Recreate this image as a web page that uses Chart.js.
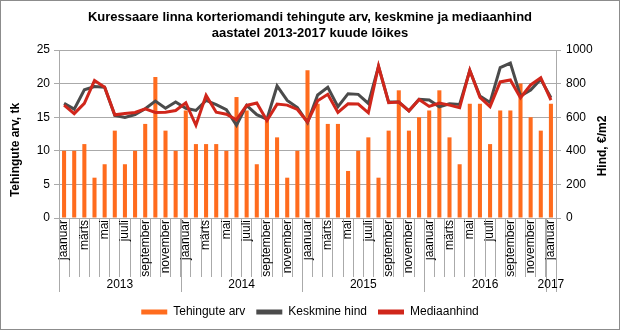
<!DOCTYPE html>
<html>
<head>
<meta charset="utf-8">
<script src="https://cdn.jsdelivr.net/npm/chart.js@4.4.0/dist/chart.umd.min.js"></script>
<style>
  html, body { margin: 0; padding: 0; background: #fff; }
  #wrap { width: 620px; height: 330px; }
</style>
</head>
<body>
<div id="wrap"><canvas id="chart" width="620" height="330"></canvas></div>
<script>
'use strict';

// ----------------------------------------------------------------------------
// Data
// ----------------------------------------------------------------------------

const monthNames = ['jaanuar', 'veebruar', 'märts', 'aprill', 'mai', 'juuni',
    'juuli', 'august', 'september', 'oktoober', 'november', 'detsember'];
const years = ['2013', '2014', '2015', '2016', '2017'];
const monthsPerYear = [12, 12, 12, 12, 1];

// Tehingute arv, tk
const dealCount = [
    10, 10, 11, 6, 8, 13, 8, 10, 14, 21, 13, 10,
    16, 11, 11, 11, 10, 18, 16, 8, 15, 12, 6, 10,
    22, 17, 14, 14, 7, 10, 12, 6, 13, 19, 13, 15,
    16, 19, 12, 8, 17, 17, 11, 16, 16, 20, 15, 13,
    17
];

// Keskmine hind, EUR/m2
const avgPrice = [
    682, 648, 763, 782, 778, 610, 598, 616, 650, 696, 653, 690,
    653, 640, 700, 675, 645, 552, 670, 615, 588, 786, 700, 658,
    568, 732, 778, 662, 740, 736, 682, 902, 690, 690, 638, 706,
    702, 662, 680, 676, 878, 726, 688, 895, 922, 726, 762, 826,
    716
];

// Mediaanhind, EUR/m2
const medianPrice = [
    672, 621, 682, 818, 778, 614, 622, 628, 650, 628, 630, 640,
    685, 552, 730, 630, 618, 585, 670, 685, 580, 678, 672, 646,
    572, 698, 736, 628, 680, 678, 626, 904, 686, 690, 637, 705,
    664, 684, 672, 656, 880, 718, 663, 810, 822, 716, 792, 835,
    702
];

const axisTitles = ['Tehingute arv, tk', 'Hind, €/m2'];

const categories = [];
years.forEach((y, yi) => {
    for (let m = 0; m < monthsPerYear[yi]; m++) {
        categories.push(monthNames[m] + ' ' + y);
    }
});

// ----------------------------------------------------------------------------
// Colors
// ----------------------------------------------------------------------------

const colors = {
    bar: '#ff6c1e',
    avg: '#4b4b4b',
    median: '#d0261b',
    grid: '#aaaaaa',
    text: '#000000',
    frame: '#8c8c8c'
};

const FONT = "'Liberation Sans', Arial, sans-serif";
Chart.defaults.font.family = FONT;
Chart.defaults.color = colors.text;

// ----------------------------------------------------------------------------
// Plugin: frame, year groups, axis titles
// ----------------------------------------------------------------------------

function drawUpText(ctx, text, x, y) {
    ctx.save();
    ctx.translate(x, y);
    ctx.rotate(-Math.PI / 2);
    ctx.fillText(text, 0, 0);
    ctx.restore();
}

const decorPlugin = {
    id: 'decor',
    beforeDraw(chart) {
        const ctx = chart.ctx;
        ctx.save();
        ctx.fillStyle = '#fff';
        ctx.fillRect(0, 0, chart.width, chart.height);
        ctx.restore();
    },
    afterDraw(chart) {
        const ctx = chart.ctx;
        const xs = chart.scales.x;
        const area = chart.chartArea;
        const half = (xs.getPixelForValue(1) - xs.getPixelForValue(0)) / 2;

        ctx.save();
        // year separators and labels
        ctx.strokeStyle = colors.grid;
        ctx.lineWidth = 1;
        ctx.fillStyle = colors.text;
        ctx.font = '12px ' + FONT;
        ctx.textAlign = 'center';
        ctx.textBaseline = 'middle';
        let start = 0;
        years.forEach((y, yi) => {
            const end = start + monthsPerYear[yi];
            const x0 = xs.getPixelForValue(start) - half;
            const x1 = xs.getPixelForValue(end - 1) + half;
            ctx.beginPath();
            ctx.moveTo(Math.round(x0) + 0.5, area.bottom);
            ctx.lineTo(Math.round(x0) + 0.5, 292);
            if (yi === years.length - 1) {
                ctx.moveTo(Math.round(x1) + 0.5, area.bottom);
                ctx.lineTo(Math.round(x1) + 0.5, 292);
            }
            ctx.stroke();
            ctx.fillText(y, (x0 + x1) / 2, 285);
            start = end;
        });

        // axis titles, both reading upwards
        ctx.font = 'bold 12px ' + FONT;
        drawUpText(ctx, axisTitles[0], 16, 150);
        drawUpText(ctx, axisTitles[1], 603, 146);
        ctx.restore();

        // outer frame
        ctx.save();
        ctx.strokeStyle = colors.frame;
        ctx.lineWidth = 1;
        ctx.strokeRect(0.5, 0.5, chart.width - 1, chart.height - 1);
        ctx.restore();
    }
};

// ----------------------------------------------------------------------------
// Chart
// ----------------------------------------------------------------------------

const canvas = document.getElementById('chart');

new Chart(canvas, {
    type: 'bar',
    data: {
        labels: categories,
        datasets: [
            {
                type: 'bar',
                label: 'Tehingute arv',
                data: dealCount,
                backgroundColor: colors.bar,
                borderWidth: 0,
                barPercentage: 0.4,
                categoryPercentage: 1,
                yAxisID: 'y',
                order: 2
            },
            {
                type: 'line',
                label: 'Keskmine hind',
                data: avgPrice,
                borderColor: colors.avg,
                backgroundColor: colors.avg,
                borderWidth: 3,
                pointRadius: 0,
                tension: 0,
                yAxisID: 'y1',
                order: 1
            },
            {
                type: 'line',
                label: 'Mediaanhind',
                data: medianPrice,
                borderColor: colors.median,
                backgroundColor: colors.median,
                borderWidth: 3,
                pointRadius: 0,
                tension: 0,
                yAxisID: 'y1',
                order: 0
            }
        ]
    },
    options: {
        responsive: false,
        devicePixelRatio: 1,
        animation: false,
        layout: {
            padding: { left: 4, right: 4, top: 0, bottom: 2 }
        },
        plugins: {
            title: {
                display: true,
                text: [
                    'Kuressaare linna korteriomandi tehingute arv, keskmine ja mediaanhind',
                    'aastatel 2013-2017 kuude lõikes'
                ],
                color: colors.text,
                font: { size: 13, weight: 'bold', lineHeight: 16 / 13 },
                padding: { top: 9, bottom: 9 }
            },
            legend: {
                position: 'bottom',
                labels: {
                    boxWidth: 26,
                    boxHeight: 5,
                    padding: 11,
                    font: { size: 12 },
                    color: colors.text,
                    sort: (a, b) => a.datasetIndex - b.datasetIndex,
                    generateLabels(chart) {
                        const items = Chart.defaults.plugins.legend.labels.generateLabels(chart);
                        items.forEach(it => { it.lineWidth = 0; });
                        return items;
                    }
                }
            },
            tooltip: { enabled: false }
        },
        scales: {
            x: {
                type: 'category',
                offset: true,
                grid: {
                    display: true,
                    drawOnChartArea: false,
                    offset: true,
                    tickLength: 59,
                    color: colors.grid
                },
                border: { display: true, color: colors.grid },
                ticks: {
                    autoSkip: false,
                    minRotation: 90,
                    maxRotation: 90,
                    padding: -57,
                    font: { size: 12 },
                    color: colors.text,
                    callback: (value, index) => index % 2 === 0 ? monthNames[index % 12] : ''
                },
                afterFit: scale => { scale.height = 77; }
            },
            y: {
                position: 'left',
                min: 0,
                max: 25,
                ticks: { stepSize: 5, padding: 4, font: { size: 12 }, color: colors.text },
                grid: { color: colors.grid, tickLength: 5 },
                border: { color: colors.grid },
                afterFit: scale => { scale.width = 55; }
            },
            y1: {
                position: 'right',
                min: 0,
                max: 1000,
                ticks: {
                    stepSize: 100,
                    padding: 5,
                    font: { size: 12 },
                    color: colors.text,
                    callback: value => String(value)
                },
                grid: { drawOnChartArea: false, color: colors.grid, tickLength: 5 },
                border: { color: colors.grid },
                afterFit: scale => { scale.width = 60; }
            }
        }
    },
    plugins: [decorPlugin]
});
</script>
</body>
</html>
